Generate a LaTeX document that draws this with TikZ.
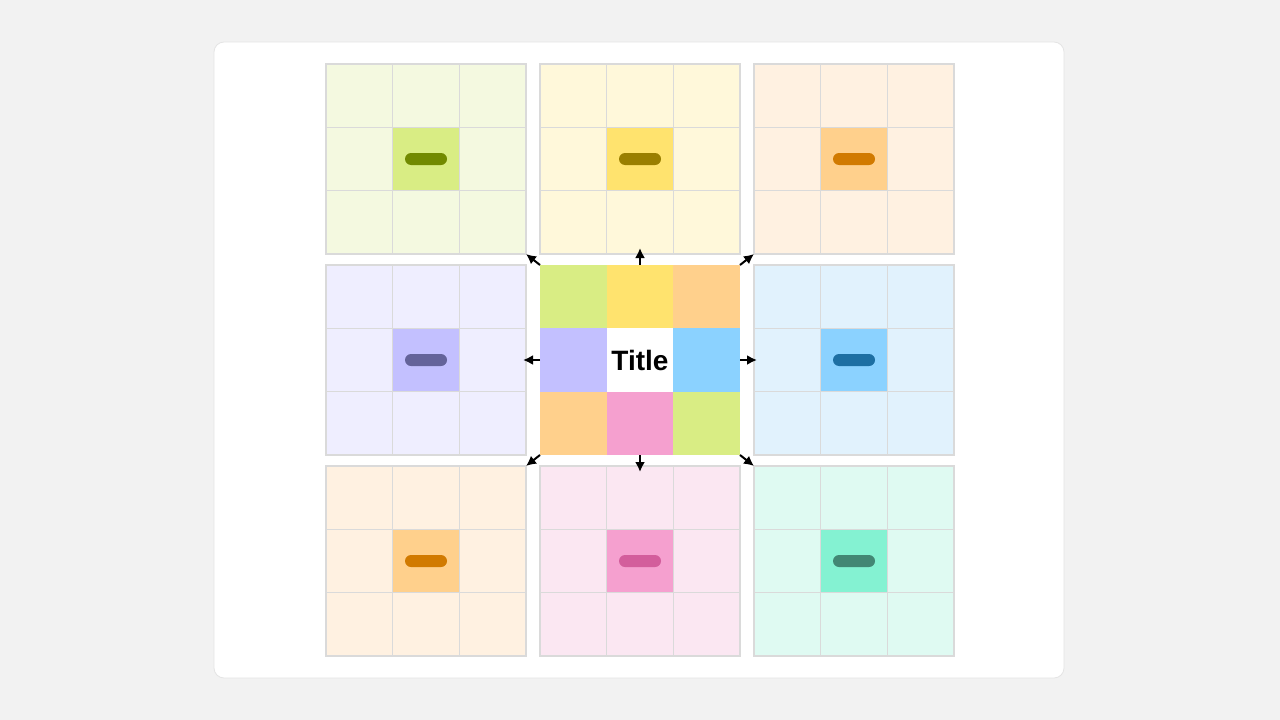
\documentclass[tikz,border=0pt]{standalone}
\usepackage{fontspec}
\setmainfont{Liberation Sans}
\usepackage{xcolor}
\usetikzlibrary{
  arrows.meta,
  positioning
}
\definecolor{bggray}{HTML}{F2F2F2}
\definecolor{cardline}{HTML}{E4E4E4}
\definecolor{gridgray}{HTML}{DADADA}
\definecolor{limeL}{HTML}{F4F9E0}
\definecolor{limeM}{HTML}{D9ED84}
\definecolor{limeD}{HTML}{718A00}
\definecolor{yelL}{HTML}{FFF8DA}
\definecolor{yelM}{HTML}{FFE36E}
\definecolor{yelD}{HTML}{9A7F00}
\definecolor{orgL}{HTML}{FFF1E1}
\definecolor{orgM}{HTML}{FFD08C}
\definecolor{orgD}{HTML}{D17A00}
\definecolor{purL}{HTML}{EFEEFF}
\definecolor{purM}{HTML}{C3C0FF}
\definecolor{purD}{HTML}{64639A}
\definecolor{bluL}{HTML}{E1F2FD}
\definecolor{bluM}{HTML}{8BD2FF}
\definecolor{bluD}{HTML}{1D6FA3}
\definecolor{pnkL}{HTML}{FBE7F2}
\definecolor{pnkM}{HTML}{F5A0CF}
\definecolor{pnkD}{HTML}{D35E9C}
\definecolor{tealL}{HTML}{DFFAF2}
\definecolor{tealM}{HTML}{84F2D2}
\definecolor{tealD}{HTML}{428774}

\begin{document}
\begin{tikzpicture}[
    x=1pt, y=-1pt,
    cell/.style={
      minimum width=66.67pt,
      minimum height=63.33pt,
      inner sep=0pt,
      outer sep=0pt
    },
    gridline/.style={draw=gridgray, line width=1.3pt},
    blk/.style={minimum width=200pt, minimum height=190pt, inner sep=0pt, outer sep=0pt},
    pill/.style={rounded corners=6pt, minimum width=42pt, minimum height=12pt, inner sep=0pt},
    ar/.style={-{Latex[length=10pt, width=10pt]}, line width=2pt}
  ]
    % page and card
    \fill[bggray] (0,0) rectangle (1280,720);
    \useasboundingbox (0,0) rectangle (1280,720);
    \draw[cardline, fill=white, line width=0.8pt, rounded corners=10pt] (214,42) rectangle (1064,678);

    % outer blocks: 3x3 light cells, darker middle cell with a pill
    \foreach \nm/\x/\y/\lite/\mid/\dot in {
        tl/426/159/limeL/limeM/limeD, tm/640/159/yelL/yelM/yelD, tr/854/159/orgL/orgM/orgD,
        ml/426/360/purL/purM/purD, mr/854/360/bluL/bluM/bluD,
        bl/426/561/orgL/orgM/orgD, bm/640/561/pnkL/pnkM/pnkD, br/854/561/tealL/tealM/tealD} {
      \node[blk] (\nm) at (\x,\y) {};
      \foreach \r in {1,2,3} {
        \foreach \c in {1,2,3} {
          \ifnum\r\c=22 \def\f{\mid}\else\def\f{\lite}\fi
          \node[cell, fill=\f] (\nm-\r\c) at ({\x+(\c-2)*66.67},{\y+(\r-2)*63.33}) {};
        }
      }
      % grid lines on top of the fills
      \foreach \r in {1,2,3}
        \foreach \c in {1,2,3}
          \draw[gridline] (\nm-\r\c.north west) rectangle (\nm-\r\c.south east);
      \node[pill, fill=\dot] (\nm-pill) at (\nm-22) {};
    }

    % centre block
    \node[blk] (ctr) at (640,360) {};
    \foreach \r/\c/\f in {1/1/limeM, 1/2/yelM, 1/3/orgM, 2/1/purM, 2/2/white, 2/3/bluM, 3/1/orgM, 3/2/pnkM, 3/3/limeM}
      \node[cell, fill=\f] (ctr-\r\c) at ({640+(\c-2)*66.67},{360+(\r-2)*63.33}) {};
    \node[font=\bfseries\fontsize{28}{30}\selectfont] (title) at (ctr-22) {Title};

    % arrows out of the centre
    \draw[ar] (ctr.north west) -- (tl.south east);
    \draw[ar] (ctr.north east) -- (tr.south west);
    \draw[ar] (ctr.south west) -- (bl.north east);
    \draw[ar] (ctr.south east) -- (br.north west);
    \draw[ar, shorten >=-6pt] (ctr.north) -- (tm.south);
    \draw[ar, shorten >=-6pt] (ctr.south) -- (bm.north);
    \draw[ar, shorten >=-3pt] (ctr.west) -- (ml.east);
    \draw[ar, shorten >=-3pt] (ctr.east) -- (mr.west);
\end{tikzpicture}
\end{document}
